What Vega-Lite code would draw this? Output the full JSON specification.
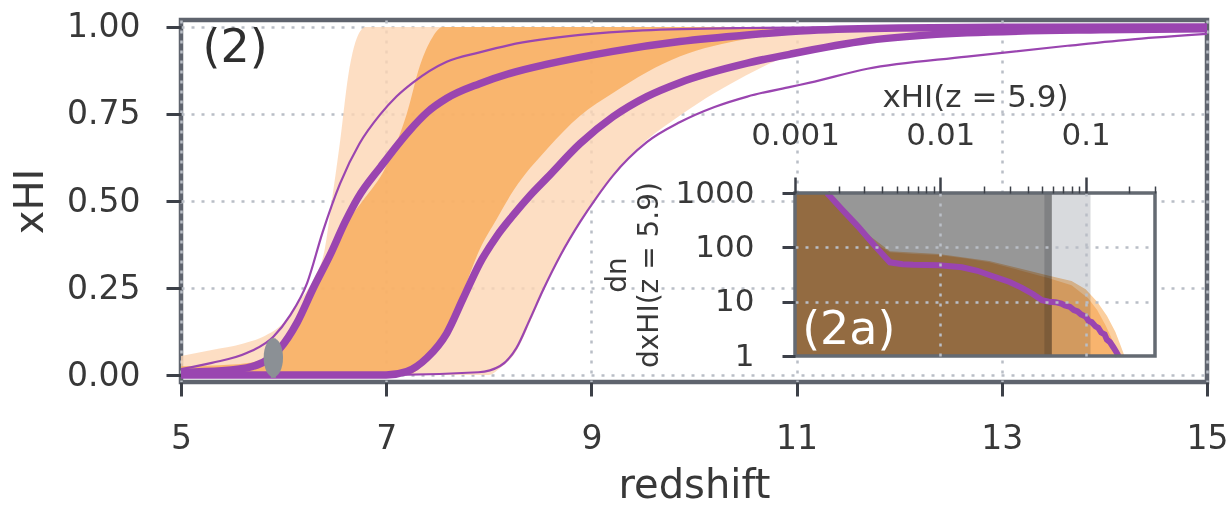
{
  "$schema": "https://vega.github.io/schema/vega-lite/v6.json",
  "width": 1026,
  "height": 362,
  "autosize": "none",
  "padding": {"left": 181, "top": 20, "right": 22, "bottom": 123},
  "background": "white",
  "config": {
    "font": "DejaVu Sans",
    "view": {"stroke": "#5f646e", "strokeWidth": 4.5},
    "axis": {
      "labelFont": "DejaVu Sans",
      "titleFont": "DejaVu Sans",
      "titleFontWeight": "normal",
      "labelColor": "#383838",
      "titleColor": "#383838",
      "tickColor": "#3c4048",
      "tickWidth": 3,
      "gridColor": "#b9bec6",
      "gridDash": [3, 7],
      "gridWidth": 2.5,
      "domain": false,
      "labelFlush": false,
      "labelOverlap": false
    }
  },
  "datasets": {
    "tag2": [{"t": "(2)"}],
    "tag2a": [{"t": "(2a)"}],
    "light": [
      {"z": 5.0, "lo": 0, "hi": 0.055}, {"z": 5.3, "lo": 0, "hi": 0.072}, {"z": 5.6, "lo": 0, "hi": 0.09},
      {"z": 5.8, "lo": 0, "hi": 0.11}, {"z": 6.0, "lo": 0, "hi": 0.15}, {"z": 6.15, "lo": 0, "hi": 0.21},
      {"z": 6.3, "lo": 0, "hi": 0.28}, {"z": 6.4, "lo": 0, "hi": 0.36}, {"z": 6.47, "lo": 0, "hi": 0.5},
      {"z": 6.55, "lo": 0, "hi": 0.67}, {"z": 6.63, "lo": 0, "hi": 0.86}, {"z": 6.74, "lo": 0, "hi": 0.985},
      {"z": 6.8, "lo": 0, "hi": 1}, {"z": 8.0, "lo": 0, "hi": 1}, {"z": 8.11, "lo": 0.02, "hi": 1},
      {"z": 8.27, "lo": 0.07, "hi": 1}, {"z": 8.4, "lo": 0.15, "hi": 1}, {"z": 8.53, "lo": 0.24, "hi": 1},
      {"z": 8.7, "lo": 0.34, "hi": 1}, {"z": 8.89, "lo": 0.44, "hi": 1}, {"z": 9.05, "lo": 0.51, "hi": 1},
      {"z": 9.21, "lo": 0.575, "hi": 1}, {"z": 9.54, "lo": 0.675, "hi": 1}, {"z": 9.86, "lo": 0.745, "hi": 1},
      {"z": 10.2, "lo": 0.81, "hi": 1}, {"z": 10.5, "lo": 0.86, "hi": 1}, {"z": 10.9, "lo": 0.915, "hi": 1},
      {"z": 11.5, "lo": 0.955, "hi": 1}, {"z": 12.4, "lo": 0.985, "hi": 1}, {"z": 13.0, "lo": 0.995, "hi": 1},
      {"z": 15.0, "lo": 1, "hi": 1}
    ],
    "dark": [
      {"z": 5.0, "lo": 0, "hi": 0.025}, {"z": 5.5, "lo": 0, "hi": 0.03}, {"z": 5.8, "lo": 0, "hi": 0.045},
      {"z": 5.96, "lo": 0, "hi": 0.08}, {"z": 6.13, "lo": 0, "hi": 0.15}, {"z": 6.29, "lo": 0, "hi": 0.25},
      {"z": 6.45, "lo": 0, "hi": 0.34}, {"z": 6.62, "lo": 0, "hi": 0.44}, {"z": 6.77, "lo": 0, "hi": 0.5},
      {"z": 7.0, "lo": 0, "hi": 0.6}, {"z": 7.2, "lo": 0, "hi": 0.75}, {"z": 7.33, "lo": 0.02, "hi": 0.89},
      {"z": 7.45, "lo": 0.06, "hi": 0.97}, {"z": 7.55, "lo": 0.1, "hi": 1}, {"z": 7.75, "lo": 0.24, "hi": 1},
      {"z": 7.91, "lo": 0.36, "hi": 1}, {"z": 8.08, "lo": 0.45, "hi": 1}, {"z": 8.24, "lo": 0.53, "hi": 1},
      {"z": 8.57, "lo": 0.65, "hi": 1}, {"z": 8.89, "lo": 0.745, "hi": 1}, {"z": 9.21, "lo": 0.81, "hi": 1},
      {"z": 9.54, "lo": 0.87, "hi": 1}, {"z": 9.86, "lo": 0.915, "hi": 1}, {"z": 10.5, "lo": 0.965, "hi": 1},
      {"z": 11.1, "lo": 0.988, "hi": 1}, {"z": 12.0, "lo": 1, "hi": 1}
    ],
    "lines": [
      {"s": "thin1", "w": "thin", "z": 5.0, "y": 0.017}, {"s": "thin1", "w": "thin", "z": 5.3, "y": 0.035},
      {"s": "thin1", "w": "thin", "z": 5.64, "y": 0.063}, {"s": "thin1", "w": "thin", "z": 5.9, "y": 0.11},
      {"s": "thin1", "w": "thin", "z": 6.06, "y": 0.17}, {"s": "thin1", "w": "thin", "z": 6.23, "y": 0.265},
      {"s": "thin1", "w": "thin", "z": 6.38, "y": 0.41}, {"s": "thin1", "w": "thin", "z": 6.55, "y": 0.55},
      {"s": "thin1", "w": "thin", "z": 6.74, "y": 0.665}, {"s": "thin1", "w": "thin", "z": 6.94, "y": 0.748},
      {"s": "thin1", "w": "thin", "z": 7.1, "y": 0.8}, {"s": "thin1", "w": "thin", "z": 7.26, "y": 0.84},
      {"s": "thin1", "w": "thin", "z": 7.59, "y": 0.9}, {"s": "thin1", "w": "thin", "z": 7.91, "y": 0.927},
      {"s": "thin1", "w": "thin", "z": 8.2, "y": 0.948}, {"s": "thin1", "w": "thin", "z": 8.89, "y": 0.977},
      {"s": "thin1", "w": "thin", "z": 9.5, "y": 0.99}, {"s": "thin1", "w": "thin", "z": 10.5, "y": 0.997},
      {"s": "thin1", "w": "thin", "z": 12.0, "y": 1.0}, {"s": "thin1", "w": "thin", "z": 15.0, "y": 1.0},
      {"s": "thin2", "w": "thin", "z": 5.0, "y": 0.0}, {"s": "thin2", "w": "thin", "z": 7.0, "y": 0.0},
      {"s": "thin2", "w": "thin", "z": 7.9, "y": 0.008}, {"s": "thin2", "w": "thin", "z": 8.11, "y": 0.026},
      {"s": "thin2", "w": "thin", "z": 8.27, "y": 0.078}, {"s": "thin2", "w": "thin", "z": 8.4, "y": 0.16},
      {"s": "thin2", "w": "thin", "z": 8.53, "y": 0.245}, {"s": "thin2", "w": "thin", "z": 8.7, "y": 0.345},
      {"s": "thin2", "w": "thin", "z": 8.89, "y": 0.44}, {"s": "thin2", "w": "thin", "z": 9.05, "y": 0.51},
      {"s": "thin2", "w": "thin", "z": 9.21, "y": 0.573}, {"s": "thin2", "w": "thin", "z": 9.54, "y": 0.669},
      {"s": "thin2", "w": "thin", "z": 9.86, "y": 0.726}, {"s": "thin2", "w": "thin", "z": 10.2, "y": 0.77},
      {"s": "thin2", "w": "thin", "z": 10.52, "y": 0.8}, {"s": "thin2", "w": "thin", "z": 10.94, "y": 0.828},
      {"s": "thin2", "w": "thin", "z": 11.13, "y": 0.84}, {"s": "thin2", "w": "thin", "z": 11.69, "y": 0.88},
      {"s": "thin2", "w": "thin", "z": 12.66, "y": 0.915}, {"s": "thin2", "w": "thin", "z": 13.64, "y": 0.946},
      {"s": "thin2", "w": "thin", "z": 14.3, "y": 0.965}, {"s": "thin2", "w": "thin", "z": 15.0, "y": 0.98},
      {"s": "thick1", "w": "thick", "z": 5.0, "y": 0.008}, {"s": "thick1", "w": "thick", "z": 5.4, "y": 0.012},
      {"s": "thick1", "w": "thick", "z": 5.7, "y": 0.025}, {"s": "thick1", "w": "thick", "z": 5.85, "y": 0.045},
      {"s": "thick1", "w": "thick", "z": 5.96, "y": 0.075}, {"s": "thick1", "w": "thick", "z": 6.13, "y": 0.15},
      {"s": "thick1", "w": "thick", "z": 6.29, "y": 0.25}, {"s": "thick1", "w": "thick", "z": 6.45, "y": 0.343},
      {"s": "thick1", "w": "thick", "z": 6.6, "y": 0.44}, {"s": "thick1", "w": "thick", "z": 6.72, "y": 0.507},
      {"s": "thick1", "w": "thick", "z": 6.95, "y": 0.6}, {"s": "thick1", "w": "thick", "z": 7.22, "y": 0.7},
      {"s": "thick1", "w": "thick", "z": 7.4, "y": 0.755}, {"s": "thick1", "w": "thick", "z": 7.59, "y": 0.795},
      {"s": "thick1", "w": "thick", "z": 7.91, "y": 0.837}, {"s": "thick1", "w": "thick", "z": 8.2, "y": 0.866},
      {"s": "thick1", "w": "thick", "z": 8.57, "y": 0.893}, {"s": "thick1", "w": "thick", "z": 9.21, "y": 0.93},
      {"s": "thick1", "w": "thick", "z": 9.86, "y": 0.958}, {"s": "thick1", "w": "thick", "z": 10.52, "y": 0.977},
      {"s": "thick1", "w": "thick", "z": 11.13, "y": 0.99}, {"s": "thick1", "w": "thick", "z": 12.0, "y": 0.997},
      {"s": "thick1", "w": "thick", "z": 13.0, "y": 0.999}, {"s": "thick1", "w": "thick", "z": 15.0, "y": 1.0},
      {"s": "thick2", "w": "thick", "z": 5.0, "y": 0.0}, {"s": "thick2", "w": "thick", "z": 7.0, "y": 0.0},
      {"s": "thick2", "w": "thick", "z": 7.2, "y": 0.01}, {"s": "thick2", "w": "thick", "z": 7.4, "y": 0.05},
      {"s": "thick2", "w": "thick", "z": 7.59, "y": 0.12}, {"s": "thick2", "w": "thick", "z": 7.75, "y": 0.22},
      {"s": "thick2", "w": "thick", "z": 7.91, "y": 0.32}, {"s": "thick2", "w": "thick", "z": 8.08, "y": 0.4},
      {"s": "thick2", "w": "thick", "z": 8.24, "y": 0.46}, {"s": "thick2", "w": "thick", "z": 8.4, "y": 0.515},
      {"s": "thick2", "w": "thick", "z": 8.57, "y": 0.567}, {"s": "thick2", "w": "thick", "z": 8.89, "y": 0.665},
      {"s": "thick2", "w": "thick", "z": 9.21, "y": 0.742}, {"s": "thick2", "w": "thick", "z": 9.54, "y": 0.8},
      {"s": "thick2", "w": "thick", "z": 9.86, "y": 0.84}, {"s": "thick2", "w": "thick", "z": 10.52, "y": 0.896},
      {"s": "thick2", "w": "thick", "z": 10.94, "y": 0.922}, {"s": "thick2", "w": "thick", "z": 11.69, "y": 0.961},
      {"s": "thick2", "w": "thick", "z": 12.66, "y": 0.983}, {"s": "thick2", "w": "thick", "z": 13.96, "y": 0.992},
      {"s": "thick2", "w": "thick", "z": 15.0, "y": 0.995}
    ],
    "obs": [{"z": 5.9, "v": 0.05, "lo": -0.008, "hi": 0.105}],
    "insetbox": [{"x1": 0.001, "x2": 0.3, "y1": 1, "y2": 1000}],
    "insetpeach": [
      {"x": 0.001, "y": 1000}, {"x": 0.0016, "y": 1000}, {"x": 0.0027, "y": 240}, {"x": 0.0045, "y": 85},
      {"x": 0.0098, "y": 75}, {"x": 0.0217, "y": 56}, {"x": 0.056, "y": 30}, {"x": 0.08, "y": 24},
      {"x": 0.1, "y": 17}, {"x": 0.12, "y": 10}, {"x": 0.14, "y": 5.5}, {"x": 0.16, "y": 2.8},
      {"x": 0.175, "y": 1.5}, {"x": 0.185, "y": 1.0}
    ],
    "insetorange": [
      {"x": 0.001, "y": 1000}, {"x": 0.0016, "y": 1000}, {"x": 0.0021, "y": 480}, {"x": 0.0027, "y": 226},
      {"x": 0.0035, "y": 120}, {"x": 0.0045, "y": 81}, {"x": 0.0065, "y": 75}, {"x": 0.0098, "y": 72},
      {"x": 0.015, "y": 62}, {"x": 0.0217, "y": 53}, {"x": 0.035, "y": 38}, {"x": 0.056, "y": 27},
      {"x": 0.08, "y": 20}, {"x": 0.095, "y": 14}, {"x": 0.104, "y": 11.6}, {"x": 0.12, "y": 7},
      {"x": 0.137, "y": 3.7}, {"x": 0.15, "y": 2.2}, {"x": 0.16, "y": 1.3}, {"x": 0.165, "y": 1.0}
    ],
    "insetgray": [
      {"k": "a", "x1": 0.001, "x2": 0.0585, "y1": 1, "y2": 1000},
      {"k": "b", "x1": 0.052, "x2": 0.108, "y1": 1, "y2": 1000}
    ],
    "insetline": [
      {"x": 0.00166, "y": 1000}, {"x": 0.0021, "y": 500}, {"x": 0.0027, "y": 246}, {"x": 0.0035, "y": 110},
      {"x": 0.0045, "y": 53}, {"x": 0.0055, "y": 49}, {"x": 0.0065, "y": 48}, {"x": 0.0098, "y": 47},
      {"x": 0.0141, "y": 43}, {"x": 0.018, "y": 37}, {"x": 0.0217, "y": 31}, {"x": 0.03, "y": 23},
      {"x": 0.0364, "y": 18}, {"x": 0.043, "y": 14}, {"x": 0.05, "y": 10.6}, {"x": 0.056, "y": 10},
      {"x": 0.062, "y": 9.8}, {"x": 0.068, "y": 9.2}, {"x": 0.072, "y": 8.5}, {"x": 0.078, "y": 8.0},
      {"x": 0.083, "y": 7.0}, {"x": 0.088, "y": 6.6}, {"x": 0.093, "y": 5.8}, {"x": 0.1, "y": 5.3},
      {"x": 0.105, "y": 4.4}, {"x": 0.11, "y": 4.2}, {"x": 0.117, "y": 3.5}, {"x": 0.122, "y": 3.3},
      {"x": 0.128, "y": 2.7}, {"x": 0.135, "y": 2.5}, {"x": 0.14, "y": 2.0}, {"x": 0.147, "y": 1.8},
      {"x": 0.155, "y": 1.45}, {"x": 0.162, "y": 1.2}, {"x": 0.168, "y": 1.0}
    ]
  },
  "layer": [
    {
      "layer": [
        {
          "data": {"name": "light"},
          "mark": {"type": "area", "color": "#fdd6b4", "opacity": 0.8, "interpolate": "monotone"},
          "encoding": {
            "x": {
              "field": "z", "type": "quantitative",
              "scale": {"domain": [5, 15], "nice": false, "zero": false},
              "axis": {
                "orient": "bottom", "values": [5, 7, 9, 11, 13, 15], "format": "d",
                "title": "redshift", "labelFontSize": 33, "titleFontSize": 40,
                "tickSize": 14, "labelPadding": 26, "titlePadding": 10, "grid": true
              }
            },
            "y": {
              "field": "lo", "type": "quantitative",
              "scale": {"domain": [-0.02, 1.02], "nice": false, "zero": false},
              "axis": {
                "orient": "left", "values": [0, 0.25, 0.5, 0.75, 1], "format": ".2f",
                "title": "xHI", "labelFontSize": 33, "titleFontSize": 40,
                "tickSize": 15, "labelPadding": 26, "titlePadding": 16, "grid": true
              }
            },
            "y2": {"field": "hi"}
          }
        },
        {
          "data": {"name": "dark"},
          "mark": {"type": "area", "color": "#f7aa59", "opacity": 0.8, "interpolate": "monotone"},
          "encoding": {
            "x": {"field": "z", "type": "quantitative"},
            "y": {"field": "lo", "type": "quantitative"},
            "y2": {"field": "hi"}
          }
        },
        {
          "data": {"name": "lines"},
          "transform": [{"filter": "datum.w == 'thin'"}],
          "mark": {"type": "line", "color": "#9a45b0", "strokeWidth": 2.2, "interpolate": "monotone"},
          "encoding": {
            "x": {"field": "z", "type": "quantitative"},
            "y": {"field": "y", "type": "quantitative"},
            "detail": {"field": "s", "type": "nominal"}
          }
        },
        {
          "data": {"name": "lines"},
          "transform": [{"filter": "datum.w == 'thick'"}],
          "mark": {"type": "line", "color": "#9a45b0", "strokeWidth": 7.5, "interpolate": "monotone"},
          "encoding": {
            "x": {"field": "z", "type": "quantitative"},
            "y": {"field": "y", "type": "quantitative"},
            "detail": {"field": "s", "type": "nominal"}
          }
        },
        {
          "data": {"name": "obs"},
          "mark": {"type": "rule", "color": "#8b9095", "strokeWidth": 5},
          "encoding": {
            "x": {"field": "z", "type": "quantitative"},
            "y": {"field": "lo", "type": "quantitative"},
            "y2": {"field": "hi"}
          }
        },
        {
          "data": {"name": "obs"},
          "mark": {
            "type": "point", "filled": true, "color": "#8b9095", "opacity": 1, "size": 1500,
            "shape": "M-0.5,0A0.5,1,0,1,1,0.5,0A0.5,1,0,1,1,-0.5,0Z"
          },
          "encoding": {
            "x": {"field": "z", "type": "quantitative"},
            "y": {"field": "v", "type": "quantitative"}
          }
        },
        {
          "data": {"name": "tag2"},
          "mark": {"type": "text", "fontSize": 46, "align": "left", "baseline": "middle", "color": "#2e2e2e"},
          "encoding": {
            "text": {"field": "t", "type": "nominal"},
            "x": {"datum": 5.21, "type": "quantitative"},
            "y": {"datum": 0.94, "type": "quantitative"}
          }
        }
      ]
    },
    {
      "layer": [
        {
          "data": {"name": "insetbox"},
          "mark": {"type": "rect", "fill": "white"},
          "encoding": {
            "x": {
              "field": "x1", "type": "quantitative",
              "scale": {"type": "log", "domain": [0.001, 0.3], "range": [614, 974], "nice": false},
              "axis": {
                "orient": "top", "offset": -173,
                "values": [0.001, 0.002, 0.003, 0.004, 0.005, 0.006, 0.007, 0.008, 0.009, 0.01, 0.02, 0.03, 0.04, 0.05, 0.06, 0.07, 0.08, 0.09, 0.1, 0.2, 0.3],
                "format": "~g",
                "labelExpr": "(datum.value == 0.001 || datum.value == 0.01 || datum.value == 0.1) ? datum.label : ''",
                "tickSize": {"condition": {"test": "datum.value == 0.001 || datum.value == 0.01 || datum.value == 0.1", "value": 16}, "value": 7},
                "tickWidth": {"condition": {"test": "datum.value == 0.001 || datum.value == 0.01 || datum.value == 0.1", "value": 2.5}, "value": 1.5},
                "gridOpacity": {"condition": {"test": "datum.value == 0.01 || datum.value == 0.1", "value": 1}, "value": 0},
                "grid": true,
                "labelFontSize": 31, "labelPadding": 26,
                "title": "xHI(z = 5.9)", "titleFontSize": 31, "titlePadding": 6,
                "zindex": 1
              }
            },
            "x2": {"field": "x2"},
            "y": {
              "field": "y1", "type": "quantitative",
              "scale": {"type": "log", "domain": [1, 1000], "range": [336, 173], "nice": false},
              "axis": {
                "orient": "left", "offset": -614,
                "values": [1, 10, 100, 1000], "format": "d",
                "gridOpacity": {"condition": {"test": "datum.value == 10 || datum.value == 100", "value": 1}, "value": 0},
                "grid": true,
                "labelFontSize": 31, "tickSize": 13, "labelPadding": 28,
                "title": ["dn", "dxHI(z = 5.9)"], "titleFontSize": 28, "titleLineHeight": 32, "titlePadding": 12,
                "zindex": 1
              }
            },
            "y2": {"field": "y2"}
          }
        },
        {
          "data": {"name": "insetpeach"},
          "mark": {"type": "area", "color": "#fbcf9f", "opacity": 1},
          "encoding": {
            "x": {"field": "x", "type": "quantitative"},
            "y": {"field": "y", "type": "quantitative"},
            "y2": {"datum": 1}
          }
        },
        {
          "data": {"name": "insetorange"},
          "mark": {"type": "area", "color": "#f8b46e", "opacity": 1},
          "encoding": {
            "x": {"field": "x", "type": "quantitative"},
            "y": {"field": "y", "type": "quantitative"},
            "y2": {"datum": 1}
          }
        },
        {
          "data": {"name": "insetgray"},
          "mark": {"type": "rect", "blend": "multiply", "opacity": 1},
          "encoding": {
            "x": {"field": "x1", "type": "quantitative"},
            "x2": {"field": "x2"},
            "y": {"field": "y1", "type": "quantitative"},
            "y2": {"field": "y2"},
            "color": {"field": "k", "type": "nominal", "scale": {"domain": ["a", "b"], "range": ["#979797", "#d8dadd"]}, "legend": null}
          }
        },
        {
          "data": {"name": "insetline"},
          "mark": {"type": "line", "color": "#9a45b0", "strokeWidth": 6},
          "encoding": {
            "x": {"field": "x", "type": "quantitative"},
            "y": {"field": "y", "type": "quantitative"}
          }
        },
        {
          "data": {"name": "insetbox"},
          "mark": {"type": "rect", "fill": null, "fillOpacity": 0, "stroke": "#646a72", "strokeWidth": 3.5},
          "encoding": {
            "x": {"field": "x1", "type": "quantitative"},
            "x2": {"field": "x2"},
            "y": {"field": "y1", "type": "quantitative"},
            "y2": {"field": "y2"}
          }
        },
        {
          "data": {"name": "tag2a"},
          "mark": {"type": "text", "fontSize": 46, "align": "left", "baseline": "middle", "color": "white"},
          "encoding": {
            "text": {"field": "t", "type": "nominal"},
            "x": {"datum": 0.00112, "type": "quantitative"},
            "y": {"datum": 2.97, "type": "quantitative"}
          }
        }
      ]
    }
  ],
  "resolve": {
    "scale": {"x": "independent", "y": "independent", "color": "independent"},
    "axis": {"x": "independent", "y": "independent"}
  }
}
